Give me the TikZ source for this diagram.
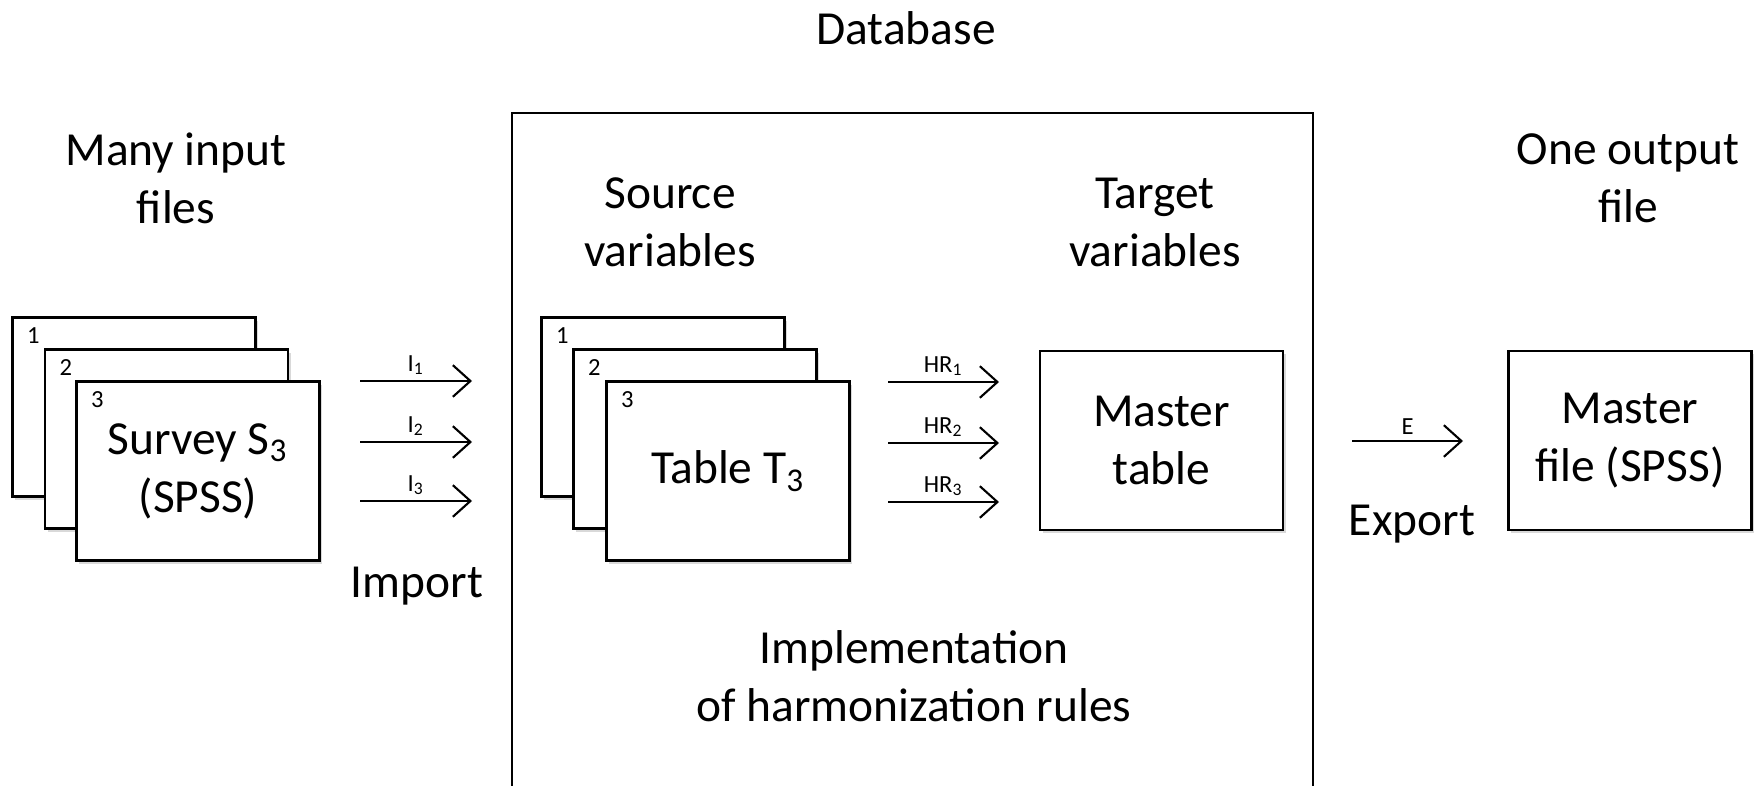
\documentclass[tikz,border=0pt]{standalone}
\usepackage{fontspec}
\setmainfont{Carlito}
\usetikzlibrary{arrows.meta,positioning,shadows,calc}

\begin{document}
\begin{tikzpicture}
[->,>={Straight Barb[length=5pt,width=9pt]}, line width=0.6pt,
big/.style={font=\fontsize{13.5}{16.5}\selectfont, align=center},
lbl/.style={font=\fontsize{7}{8.5}\selectfont, inner sep=1.5pt},
page/.style={draw, fill=white, line width=0.7pt, big,
  minimum width=2.43cm, minimum height=1.79cm,
  drop shadow={shadow xshift=0.8pt, shadow yshift=-0.9pt, opacity=0.3}}]
\clip (0,0) rectangle (17.58,-7.86);

% database frame, open at the bottom
\node (db) at (9.125,-4.63) [draw, line width=0.7pt, minimum width=8.01cm, minimum height=7cm] {};
\node (dbt) at (9.06,-0.28) [big] {Database};

% headings
\node (hin) at (1.76,-1.78) [big] {Many input\\files};
\node (hsrc) at (6.70,-2.22) [big] {Source\\variables};
\node (htgt) at (11.55,-2.22) [big] {Target\\variables};
\node (hout) at (16.28,-1.78) [big] {One output\\file};
\node (himp) at (9.14,-6.76) [big] {Implementation\\of harmonization rules};

% input surveys
\node (s1) at (1.34,-4.07) [page] {};
\node (s2) at (1.665,-4.39) [page] {};
\node (s3) at (1.98,-4.71) [page] {Survey S\textsubscript{3}\\(SPSS)};
\node (sn1) at ([shift={(0.22,-0.19)}]s1.north west) [lbl] {1};
\node (sn2) at ([shift={(0.22,-0.19)}]s2.north west) [lbl] {2};
\node (sn3) at ([shift={(0.22,-0.19)}]s3.north west) [lbl] {3};

% source tables
\node (t1) at (6.63,-4.07) [page] {};
\node (t2) at (6.95,-4.39) [page] {};
\node (t3) at (7.28,-4.71) [page] {Table T\textsubscript{3}};
\node (tn1) at ([shift={(0.22,-0.19)}]t1.north west) [lbl] {1};
\node (tn2) at ([shift={(0.22,-0.19)}]t2.north west) [lbl] {2};
\node (tn3) at ([shift={(0.22,-0.19)}]t3.north west) [lbl] {3};

\node (mt) at (11.615,-4.405) [page] {Master\\table};
\node (mf) at (16.30,-4.405) [page] {Master\\file (SPSS)};

% import and harmonization arrows
\foreach \i/\y in {1/3.81,2/4.42,3/5.01} {
  \coordinate (is\i) at (3.60,-\y);
  \coordinate (ie\i) at (4.72,-\y);
  \draw (is\i) -- node [lbl,above] {I\textsubscript{\i}} (ie\i);
  \coordinate (hs\i) at (8.88,-\y-0.01);
  \coordinate (he\i) at (9.99,-\y-0.01);
  \draw (hs\i) -- node [lbl,above] {HR\textsubscript{\i}} (he\i);
}
\node (imp) at (4.17,-5.86) [big] {Import};

% export
\coordinate (es) at (13.52,-4.41);
\coordinate (ee) at (14.63,-4.41);
\draw (es) -- node [lbl,above] {E} (ee);
\node (exp) at (14.12,-5.24) [big] {Export};
\end{tikzpicture}
\end{document}
